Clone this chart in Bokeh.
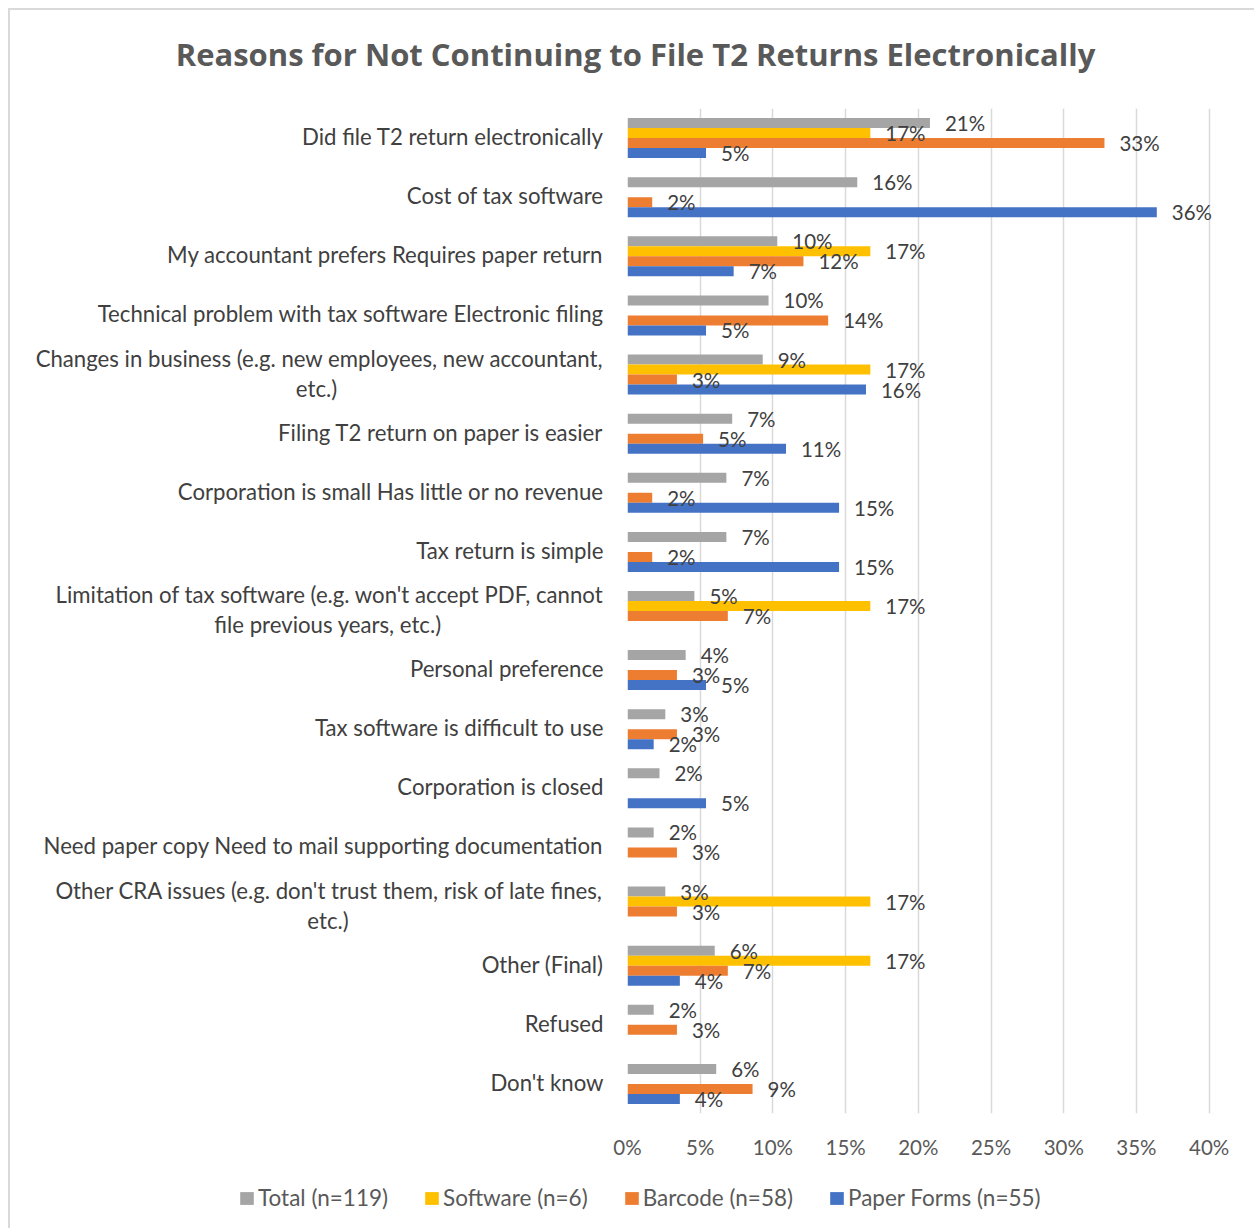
from bokeh.plotting import figure
from bokeh.layouts import column, row
from bokeh.models import (ColumnDataSource, FactorRange, Range1d, LabelSet, Label,
                          Legend, LegendItem, FixedTicker)
from bokeh.transform import dodge
from bokeh.core.properties import value
from bokeh.embed import file_html
from bokeh.resources import INLINE

# ---------------- data ----------------
title_text = "Reasons for Not Continuing to File T2 Returns Electronically"
categories = [
    "Did file T2 return electronically",
    "Cost of tax software",
    "My accountant prefers Requires paper return",
    "Technical problem with tax software Electronic filing",
    "Changes in business (e.g. new employees, new accountant,\netc.)",
    "Filing T2 return on paper is easier",
    "Corporation is small Has little or no revenue",
    "Tax return is simple",
    "Limitation of tax software (e.g. won't accept PDF, cannot\nfile previous years, etc.)",
    "Personal preference",
    "Tax software is difficult to use",
    "Corporation is closed",
    "Need paper copy Need to mail supporting documentation",
    "Other CRA issues (e.g. don't trust them, risk of late fines,\netc.)",
    "Other (Final)",
    "Refused",
    "Don't know",
]
series_names = ["Total (n=119)", "Software (n=6)", "Barcode (n=58)", "Paper Forms (n=55)"]
total    = [20.8, 15.8, 10.3, 9.7, 9.3, 7.2, 6.8, 6.8, 4.6, 4.0, 2.6, 2.2, 1.8, 2.6, 6.0, 1.8, 6.1]
software = [16.7, None, 16.7, None, 16.7, None, None, None, 16.7, None, None, None, None, 16.7, 16.7, None, None]
barcode  = [32.8, 1.7, 12.1, 13.8, 3.4, 5.2, 1.7, 1.7, 6.9, 3.4, 3.4, None, 3.4, 3.4, 6.9, 3.4, 8.6]
paper    = [5.4, 36.4, 7.3, 5.4, 16.4, 10.9, 14.55, 14.55, None, 5.4, 1.8, 5.4, None, None, 3.6, None, 3.6]
x_ticks = [0, 5, 10, 15, 20, 25, 30, 35, 40]
x_tick_labels = ["0%", "5%", "10%", "15%", "20%", "25%", "30%", "35%", "40%"]

# ---------------- style ----------------
FONT = "Lato"
colors = ["#A5A5A5", "#FFC000", "#ED7D31", "#4472C4"]
row_px = 59.1
bar_h = 10.0 / row_px
offsets = [15.0 / row_px, 5.0 / row_px, -5.0 / row_px, -15.0 / row_px]
series_vals = [total, software, barcode, paper]
line_dy = 15.0 / row_px


def plain(fig):
    fig.outline_line_color = None
    fig.background_fill_color = "white"
    fig.border_fill_color = "white"
    if "frame_align" in fig.properties():
        fig.frame_align = False


# ---- title strip (page y 10..90) ----
tf = figure(width=1244, height=80, x_range=Range1d(0, 1244), y_range=Range1d(0, 80),
            output_backend="svg", toolbar_location=None, title=None,
            min_border_left=0, min_border_right=0, min_border_top=0, min_border_bottom=0)
plain(tf)
tf.axis.visible = False
tf.grid.visible = False
tf.add_layout(Label(x=625, y=37, text=title_text, text_align="center",
                    text_baseline="alphabetic", text_font="Open Sans",
                    text_font_style="bold", text_font_size="31px", text_color="#595959"))

# ---- main chart (page x 607..1254, y 90..1170) ----
y_range = FactorRange(factors=categories[::-1])
p = figure(width=647, height=1080, y_range=y_range, x_range=Range1d(0, 42.5),
           output_backend="svg", toolbar_location=None, title=None,
           min_border_left=20, min_border_right=9, min_border_top=18, min_border_bottom=57)
plain(p)
p.yaxis.visible = False
p.ygrid.visible = False
p.xgrid.ticker = FixedTicker(ticks=x_ticks)
p.xgrid.grid_line_color = "#D9D9D9"
p.xgrid.grid_line_width = 1.5

xa = p.xaxis[0]
xa.ticker = FixedTicker(ticks=x_ticks)
xa.major_label_overrides = {t: s for t, s in zip(x_ticks, x_tick_labels)}
xa.axis_line_color = None
xa.major_tick_line_color = None
xa.minor_tick_line_color = None
xa.major_tick_out = 0
xa.major_tick_in = 0
xa.major_label_standoff = 21
xa.major_label_text_font = FONT
xa.major_label_text_font_size = "20.5px"
xa.major_label_text_color = "#595959"

for vals, col, off in zip(series_vals, colors, offsets):
    cats = [c for c, v in zip(categories, vals) if v is not None]
    vv = [v for v in vals if v is not None]
    lbl = [f"{v:.0f}%" for v in vv]
    src = ColumnDataSource(dict(cat=cats, val=vv, lbl=lbl))
    p.hbar(y=dodge("cat", off, range=y_range), left=0, right="val",
           height=bar_h, source=src, fill_color=col, line_color=None)
    p.add_layout(LabelSet(x="val", y=dodge("cat", off, range=y_range), text="lbl",
                          source=src, x_offset=15, text_align="left",
                          text_baseline="middle", text_font=value(FONT),
                          text_font_size="20.5px", text_color="#404040"))

# ---- category labels (page x 10..607), sharing the chart's factor range ----
lf = figure(width=597, height=1080, y_range=y_range, x_range=Range1d(0, 597),
            output_backend="svg", toolbar_location=None, title=None,
            min_border_left=0, min_border_right=0, min_border_top=18, min_border_bottom=57)
plain(lf)
lf.axis.visible = False
lf.grid.visible = False

LABEL_RIGHT = 593
line2_center = {4: 306, 8: 317.5, 13: 317.5}
single, l1_cat, l1_txt, l2_cat, l2_txt, l2_x = [], [], [], [], [], []
for i, c in enumerate(categories):
    parts = c.split("\n")
    if len(parts) == 1:
        single.append(c)
    else:
        l1_cat.append(c); l1_txt.append(parts[0])
        l2_cat.append(c); l2_txt.append(parts[1]); l2_x.append(line2_center[i])

txt_kw = dict(text_font=value(FONT), text_font_size=value("22.2px"),
              text_color="#404040", text_baseline="middle")
lf.text(x="x", y="cat", text="t", text_align="right", y_offset=-1.5,
        source=ColumnDataSource(dict(x=[LABEL_RIGHT] * len(single), cat=single, t=single)), **txt_kw)
lf.text(x="x", y=dodge("cat", line_dy, range=y_range), text="t", text_align="right", y_offset=-1.5,
        source=ColumnDataSource(dict(x=[LABEL_RIGHT] * len(l1_cat), cat=l1_cat, t=l1_txt)), **txt_kw)
lf.text(x="x", y=dodge("cat", -line_dy, range=y_range), text="t", text_align="center", y_offset=-1.5,
        source=ColumnDataSource(dict(x=l2_x, cat=l2_cat, t=l2_txt)), **txt_kw)

# ---- legend strip (page y 1170..1228) ----
pl = figure(width=1244, height=58, x_range=Range1d(0, 1), y_range=Range1d(0, 1),
            output_backend="svg", toolbar_location=None, title=None,
            min_border_left=0, min_border_right=0, min_border_top=0, min_border_bottom=0)
plain(pl)
pl.axis.visible = False
pl.grid.visible = False
legend_renderers = [pl.hbar(y=[-5], right=[1], left=[0], height=0.1, fill_color=c, line_color=None)
                    for c in colors]
legend = Legend(items=[LegendItem(label=n, renderers=[r])
                       for n, r in zip(series_names, legend_renderers)],
                location=(228, 17), orientation="horizontal",
                glyph_width=17, glyph_height=16, label_standoff=3, spacing=35,
                padding=0, margin=0, border_line_color=None, background_fill_alpha=0,
                label_text_font=FONT, label_text_font_size="22.5px",
                label_text_color="#595959")
pl.add_layout(legend)

layout = column(tf, row(lf, p, spacing=0), pl, spacing=0)
layout.styles = {"margin-left": "8px", "margin-top": "8px",
                 "border-left": "2px solid #D9D9D9", "border-top": "2px solid #D9D9D9"}

open("out.html", "w").write(file_html(layout, INLINE))
